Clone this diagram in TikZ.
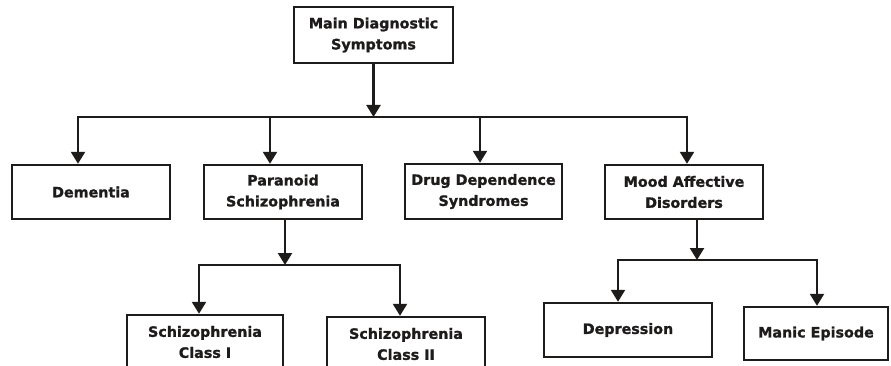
\documentclass[tikz,border=0pt]{standalone}
\usepackage{fontspec}
\setmainfont{DejaVu Sans}
\newfontfamily\heavyfont[FakeBold=1.2]{DejaVu Sans Bold}
\usetikzlibrary{arrows.meta}
\definecolor{ink}{HTML}{1E1B1B}
\begin{document}
\begin{tikzpicture}[x=1pt,y=-1pt,
  box/.style={draw=ink,line width=2.4pt,fill=white,rectangle,inner sep=0pt,
    align=center,font=\fontsize{14.3}{21}\heavyfont,text=ink},
  conn/.style={draw=ink,line width=2.3pt},
  arr/.style={conn,-{Triangle[width=14pt,length=12pt]}}]
\useasboundingbox (0,0) rectangle (891,366);
% boxes
\node[box,minimum width=159pt,minimum height=56pt] (top) at (373.5,35) {Main Diagnostic\\Symptoms};
\node[box,minimum width=158pt,minimum height=54pt] (dem) at (91,192) {Dementia};
\node[box,minimum width=158pt,minimum height=54pt] (par) at (283,192) {Paranoid\\Schizophrenia};
\node[box,minimum width=157pt,minimum height=55pt] (drug) at (483.5,191.5) {Drug Dependence\\Syndromes};
\node[box,minimum width=158pt,minimum height=54pt] (mood) at (684,192) {Mood Affective\\Disorders};
\node[box,minimum width=156pt,minimum height=54pt] (s1) at (205,342) {Schizophrenia\\Class I};
\node[box,minimum width=158pt,minimum height=54pt] (s2) at (406,344) {Schizophrenia\\Class II};
\node[box,minimum width=168pt,minimum height=54pt] (dep) at (628,330) {Depression};
\node[box,minimum width=144pt,minimum height=53pt] (man) at (816,333.5) {Manic Episode};
% level 1 bus
\coordinate (b1l) at (78,117);
\coordinate (b1r) at (687,117);
\coordinate (b1p) at (270,117);
\coordinate (b1d) at (480,117);
\draw[conn,line cap=rect] (b1l) -- (b1r);
\draw[arr] (top.south) -- (top.south |- b1l);
\draw[arr] (b1l) -- (b1l |- dem.north);
\draw[arr] (b1p) -- (b1p |- par.north);
\draw[arr] (b1d) -- (b1d |- drug.north);
\draw[arr] (b1r) -- (b1r |- mood.north);
% paranoid bus
\coordinate (p0) at (285,219);
\coordinate (p1) at (285,265);
\coordinate (pl) at (199,265);
\coordinate (pr) at (400,265);
\draw[arr] (p0) -- (p1);
\draw[conn,line cap=rect] (pl) -- (pr);
\draw[arr] (pl) -- (pl |- s1.north);
\draw[arr] (pr) -- (pr |- s2.north);
% mood bus
\coordinate (m0) at (697,219);
\coordinate (m1) at (697,260);
\coordinate (ml) at (618,260);
\coordinate (mr) at (817,260);
\draw[arr] (m0) -- (m1);
\draw[conn,line cap=rect] (ml) -- (mr);
\draw[arr] (ml) -- (ml |- dep.north);
\draw[arr] (mr) -- (mr |- man.north);
\end{tikzpicture}
\end{document}
